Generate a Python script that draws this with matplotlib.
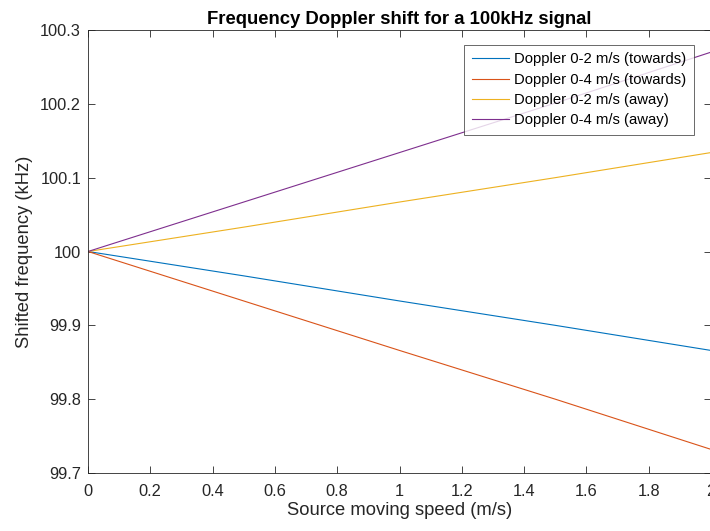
import numpy as np
import matplotlib
matplotlib.use("Agg")
import matplotlib.pyplot as plt

# source speed (m/s) and shifted frequency (kHz)
speed = [0, 0.5, 1.0, 1.5, 2.0]
towards_2 = [100.0, 99.967, 99.933, 99.900, 99.866]
towards_4 = [100.0, 99.933, 99.866, 99.800, 99.732]
away_2 = [100.0, 100.033, 100.067, 100.100, 100.134]
away_4 = [100.0, 100.067, 100.134, 100.201, 100.270]

labels = ["Doppler 0-2 m/s (towards)", "Doppler 0-4 m/s (towards)",
          "Doppler 0-2 m/s (away)", "Doppler 0-4 m/s (away)"]
colors = ["#0072BD", "#D95319", "#EDB120", "#7E2F8E"]

plt.rcParams['font.family'] = ['Liberation Sans', 'DejaVu Sans']

fig = plt.figure(figsize=(7.1, 5.31), dpi=100)
ax = fig.add_axes([88 / 710, 1 - 473 / 531, 623 / 710, 443 / 531])

for ys, lab, c in zip([towards_2, towards_4, away_2, away_4], labels, colors):
    ax.plot(speed, ys, color=c, linewidth=0.8, label=lab)

ax.set_xlim(0, 2)
ax.set_ylim(99.7, 100.3)
ax.set_xticks(np.arange(0, 2.01, 0.2))
ax.set_xticklabels(["0", "0.2", "0.4", "0.6", "0.8", "1", "1.2", "1.4", "1.6", "1.8", "2"])
ax.set_yticks([99.7, 99.8, 99.9, 100.0, 100.1, 100.2, 100.3])
ax.set_yticklabels(["99.7", "99.8", "99.9", "100", "100.1", "100.2", "100.3"])

ax.tick_params(direction='in', top=True, right=True, labelsize=11.8, colors='#262626',
               length=5, width=0.6)
ax.tick_params(axis='x', pad=8)
ax.tick_params(axis='y', pad=5)
for s in ax.spines.values():
    s.set_color('#262626')
    s.set_linewidth(0.6)

ax.set_xlabel("Source moving speed (m/s)", fontsize=13.2, color='#262626', labelpad=2)
ax.set_ylabel("Shifted frequency (kHz)", fontsize=13.2, color='#262626', labelpad=5)
ax.set_title("Frequency Doppler shift for a 100kHz signal", fontsize=13.3,
             fontweight='bold', pad=4)

# legend box placed top right, slightly inset like the MATLAB default
leg = ax.legend(loc='upper right', bbox_to_anchor=(606 / 623, 1 - 15 / 443),
                fontsize=10.75, frameon=True, fancybox=False, borderpad=0.5,
                labelspacing=0.42, handlelength=2.5, handletextpad=0.35,
                borderaxespad=0)
leg.get_frame().set_edgecolor('#262626')
leg.get_frame().set_linewidth(0.6)

fig.savefig("out.png", dpi=100)
